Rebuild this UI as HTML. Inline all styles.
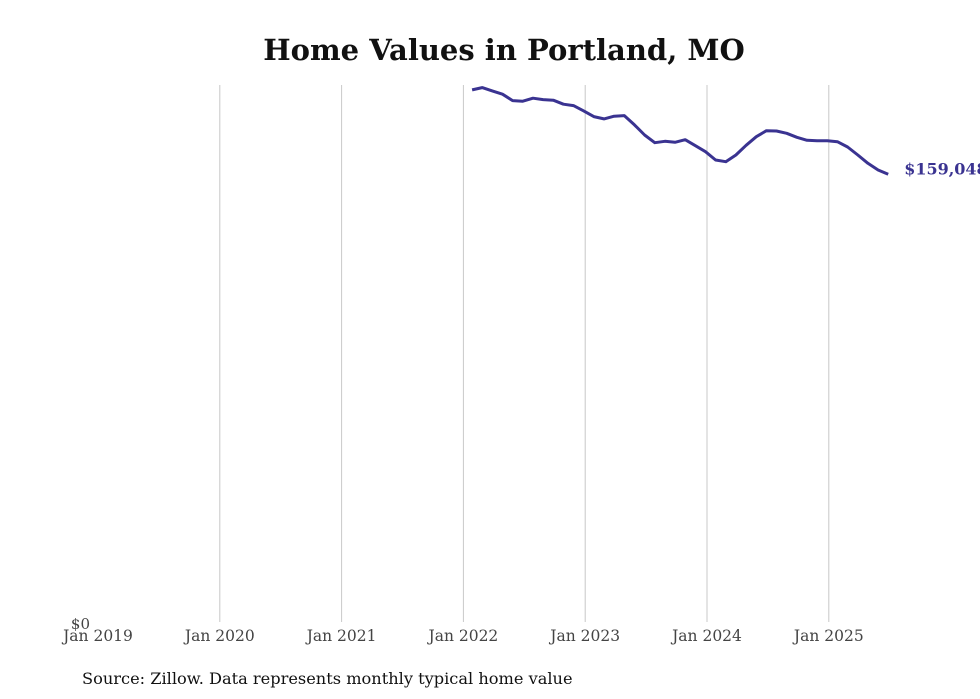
<!DOCTYPE html>
<html><head><meta charset="utf-8"><style>
body{margin:0;background:#fff;}
svg{display:block;font-family:"DejaVu Serif","Liberation Serif",serif;}
</style></head><body>
<svg id="chart" width="980" height="699" viewBox="0 0 980 699">
<text x="504" y="60" text-anchor="middle" font-size="29" font-weight="bold" fill="#111">Home Values in Portland, MO</text>
<g id="grid"></g>
<g id="xt"></g>
<text x="90" y="629" text-anchor="end" font-size="15" fill="#444">$0</text>
<path id="line" fill="none" stroke="#3a3391" stroke-width="3" stroke-linejoin="round"></path>
<text id="endlbl" font-size="16" font-weight="bold" fill="#3a3391"></text>
<text x="82" y="684" font-size="16.2" fill="#111">Source: Zillow. Data represents monthly typical home value</text>
</svg>
<script>
const tickLabels=["Jan 2019","Jan 2020","Jan 2021","Jan 2022","Jan 2023","Jan 2024","Jan 2025"];
const startMonth=[2022,2];
const values=[188949,189764,188594,187424,185155,184943,186006,185510,185297,183879,183383,181504,179483,178668,179625,179838,176541,172996,170266,170763,170408,171330,169203,167076,164134,163531,165906,169345,172393,174520,174414,173598,172180,171117,170975,170975,170621,168742,165906,162963,160589,159048];
const x0=98,yr=121.8,yBase=623,yScale=448.7/159048;
const xs=(y,m)=>x0+(y-2019+(m-1)/12)*yr;
const ys=v=>yBase-v*yScale;
const ns="http://www.w3.org/2000/svg";
const grid=document.getElementById('grid'),xt=document.getElementById('xt');
tickLabels.forEach((t,i)=>{
  const x=xs(2019+i,1);
  if(i>0){const l=document.createElementNS(ns,'line');
  
  
  l.setAttribute('x1',x);l.setAttribute('x2',x);l.setAttribute('y1',85);l.setAttribute('y2',622);
  l.setAttribute('stroke','#c8c8c8');l.setAttribute('stroke-width','1');grid.appendChild(l);}
  const tx=document.createElementNS(ns,'text');
  
  
  tx.setAttribute('x',x);tx.setAttribute('y',641);tx.setAttribute('text-anchor','middle');
  tx.setAttribute('font-size','15.5');tx.setAttribute('fill','#444');tx.textContent=t;xt.appendChild(tx);
});
let d='',lx,ly;
values.forEach((v,i)=>{
  const mi=startMonth[1]-1+i;const x=xs(startMonth[0]+Math.floor(mi/12),mi%12+1)-1.5;const y=ys(v);
  d+=(i?'L':'M')+x.toFixed(1)+' '+y.toFixed(1);lx=x;ly=y;
});
document.getElementById('line').setAttribute('d',d);
const el=document.getElementById('endlbl');
el.setAttribute('x',lx+16);el.setAttribute('y',ly);
el.textContent='$'+values[values.length-1].toLocaleString('en-US');
</script>
</body></html>
